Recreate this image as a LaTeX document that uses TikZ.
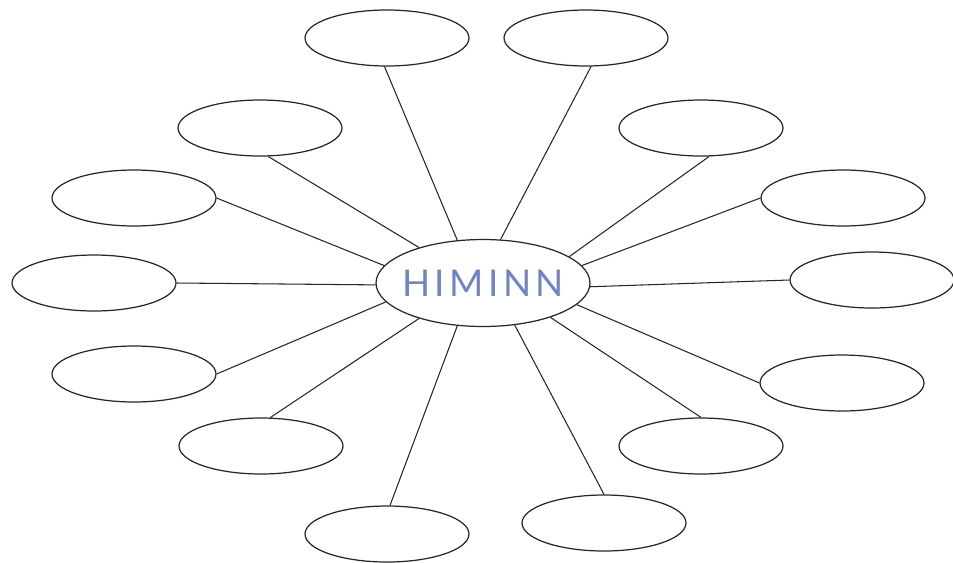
\documentclass[tikz,border=0pt]{standalone}
\usepackage{fontspec}
\usetikzlibrary{shapes.geometric}
\newfontfamily\himfont[LetterSpace=12]{Lato}
\definecolor{Hc}{HTML}{6F84C6}
\tikzset{
  leaf/.style={ellipse, draw=black!85, line width=0.7pt, inner sep=0pt,
    minimum width=3.28cm, minimum height=1.12cm},
  hub/.style={ellipse, draw=black!85, line width=0.7pt, inner sep=0pt,
    minimum width=4.28cm, minimum height=1.74cm,
    font=\himfont\fontsize{21}{21}\selectfont, text=Hc},
  spoke/.style={black!85, line width=0.6pt},
}
\begin{document}
\begin{tikzpicture}[x=0.02cm, y=-0.02cm]
  \useasboundingbox (0,0) rectangle (953,562);
  \node[hub] (himinn) at (483,283) {\makebox[0pt]{HIMINN}};
  % outer ellipses, pixel positions
  \foreach \nm/\xx/\yy in {tl/387/38, tr/586/38, ul/260/128, ur/701/128,
      ml/134/198, mr/843/198, wl/94/283, wr/872/280, ll/134/374, lr/842/383,
      dl/261/446, dr/701/446, bl/387/534, br/604/523}
    \node[leaf] (\nm) at (\xx,\yy) {};
  % spokes to the hub
  \foreach \nm/\aa/\hh in {tl/265/121, tr/280/68, ul/286/151, ur/286/17,
      ml/0/170, mr/180/10, wl/0/181, wr/180/358, ll/0/191, lr/180/347,
      dl/72/209, dr/90/333, bl/84/239, br/90/307}
    \draw[spoke] (\nm.\aa) -- (himinn.\hh);
\end{tikzpicture}
\end{document}
